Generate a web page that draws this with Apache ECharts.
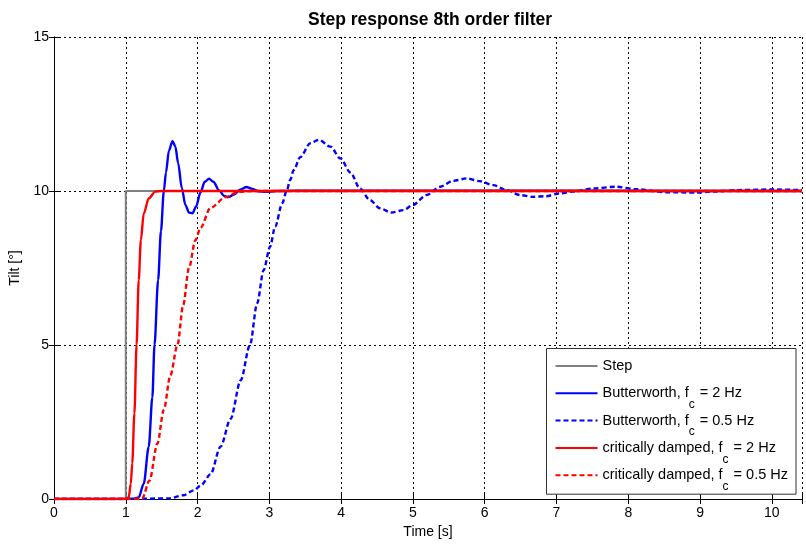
<!DOCTYPE html>
<html>
<head>
<meta charset="utf-8">
<script src="https://cdn.jsdelivr.net/npm/echarts@6/dist/echarts.min.js"></script>
<style>html,body{margin:0;padding:0;background:#fff}#c{width:806px;height:545px}</style>
</head>
<body>
<div id="c"></div>
<script>
const seriesNames = ['Step', 'Butterworth, fc = 2 Hz', 'Butterworth, fc = 0.5 Hz', 'critically damped, fc = 2 Hz', 'critically damped, fc = 0.5 Hz'];
const xTicks = [0,1,2,3,4,5,6,7,8,9,10];
const yTicks = [0,5,10,15];

const stepData = [[0,0],[1,0],[1,10],[10.42,10]];
const bw2Data = [[0,0],[1,0],[1.1,0.01],[1.18,0.05],[1.25,0.5],[1.32,1.7],[1.37,3.3],[1.40,5.0],[1.45,7.1],[1.49,8.7],[1.53,10.0],[1.56,10.6],[1.6,11.3],[1.65,11.62],[1.69,11.45],[1.73,10.9],[1.78,10.1],[1.83,9.55],[1.88,9.3],[1.93,9.28],[1.98,9.5],[2.04,9.95],[2.1,10.3],[2.16,10.4],[2.22,10.3],[2.3,10.02],[2.37,9.84],[2.43,9.8],[2.5,9.88],[2.6,10.05],[2.68,10.13],[2.76,10.07],[2.85,9.99],[2.95,9.97],[3.1,10.0],[3.4,10.01],[10.42,10]];
const bw05Data = [[0,0],[1,0],[1.6,0.02],[1.8,0.12],[1.95,0.28],[2.05,0.45],[2.18,0.8],[2.32,1.7],[2.46,2.6],[2.6,3.85],[2.73,5.0],[2.83,6.35],[2.92,7.43],[3.01,8.19],[3.08,8.84],[3.18,9.6],[3.24,10.0],[3.29,10.36],[3.34,10.68],[3.43,11.1],[3.57,11.55],[3.69,11.66],[3.85,11.44],[3.99,11.06],[4.13,10.6],[4.26,10.09],[4.40,9.71],[4.54,9.44],[4.70,9.30],[4.87,9.38],[5.00,9.55],[5.19,9.87],[5.38,10.14],[5.56,10.33],[5.75,10.41],[5.93,10.32],[6.12,10.19],[6.30,10.03],[6.49,9.87],[6.67,9.81],[6.85,9.83],[7.04,9.92],[7.23,9.98],[7.5,10.08],[7.83,10.14],[8.1,10.06],[8.52,9.96],[8.94,9.95],[9.17,9.98],[9.54,10.03],[10.0,10.05],[10.42,10.03]];
const cr2Data = [[0,0],[1,0],[1.04,0.05],[1.07,0.5],[1.09,1.16],[1.12,2.78],[1.15,5.0],[1.18,7.1],[1.21,8.4],[1.25,9.27],[1.32,9.76],[1.41,9.98],[1.5,10],[10.42,10]];
const cr05Data = [[0,0],[1,0],[1.23,0.02],[1.33,0.6],[1.44,1.8],[1.53,2.9],[1.62,4.0],[1.72,5.0],[1.80,6.3],[1.88,7.5],[1.97,8.4],[2.04,8.8],[2.18,9.45],[2.39,9.8],[2.57,9.97],[2.75,10],[10.42,10]];

const FONT = 'Liberation Sans';
const chart = echarts.init(document.getElementById('c'), null, {renderer: 'canvas'});

function axisCommon(showLabel) {
  return {
    axisLine: {show: true, lineStyle: {color: '#000', width: 1}},
    axisTick: {show: true, inside: true, length: 5, lineStyle: {color: '#000'}},
    axisLabel: {show: showLabel, color: '#000', fontSize: 14, fontFamily: FONT},
  };
}

const option = {
  animation: false,
  backgroundColor: '#fff',
  title: {
    text: 'Step response 8th order filter',
    left: 425, top: 6, textAlign: 'center',
    textStyle: {fontSize: 17.5, fontWeight: 'bold', color: '#000', fontFamily: FONT}
  },
  grid: {left: 54, top: 37, right: 4, bottom: 46, containLabel: false, outerBoundsMode: 'none'},
  legend: {
    orient: 'vertical', right: 10, top: 348.5,
    backgroundColor: '#fff', borderColor: '#333', borderWidth: 1,
    padding: [0, 8, 1.5, 8], itemGap: -7.7, itemWidth: 42, itemHeight: 14,
    selectedMode: false, data: seriesNames,
    itemStyle: {color: 'rgba(0,0,0,0)', borderWidth: 0, opacity: 0},
    lineStyle: {opacity: 1},
    formatter: function (name) {
      const i = name.indexOf(', fc');
      if (i < 0) return '{t|' + name + '}{s| }';
      return '{t|' + name.slice(0, i) + ', f}{s|c}{t|' + name.slice(i + 4) + '}';
    },
    textStyle: {
      color: '#000', fontFamily: FONT, fontSize: 14.5,
      rich: {
        t: {fontSize: 14.5, fontFamily: FONT, color: '#000', lineHeight: 14},
        s: {fontSize: 12, fontFamily: FONT, color: '#000', lineHeight: 14, padding: [23, 1, 0, 0]}
      }
    }
  },
  xAxis: [
    Object.assign({
      type: 'value', min: 0, max: 10.42, interval: 1, position: 'bottom',
      name: 'Time [s]', nameLocation: 'middle', nameGap: 25,
      nameTextStyle: {color: '#000', fontSize: 14, fontFamily: FONT},
      splitLine: {show: true, lineStyle: {color: '#000', type: [2, 3], width: 1}}
    }, axisCommon(true), {
      axisLabel: {show: true, color: '#000', fontSize: 14, fontFamily: FONT, margin: 7,
        formatter: function (v) { return xTicks.indexOf(v) >= 0 ? String(v) : ''; }}
    }),
    Object.assign({
      type: 'value', min: 0, max: 10.42, interval: 1, position: 'top',
      splitLine: {show: false}
    }, axisCommon(false))
  ],
  yAxis: [
    Object.assign({
      type: 'value', min: 0, max: 15, interval: 5, position: 'left',
      name: 'Tilt [°]', nameLocation: 'middle', nameGap: 30, nameRotate: 90,
      nameTextStyle: {color: '#000', fontSize: 14, fontFamily: FONT},
      splitLine: {show: true, lineStyle: {color: '#000', type: [2, 3], width: 1}}
    }, axisCommon(true), {
      axisLabel: {show: true, color: '#000', fontSize: 14, fontFamily: FONT, margin: 5,
        formatter: function (v) { return yTicks.indexOf(v) >= 0 ? String(v) : ''; }}
    }),
    Object.assign({
      type: 'value', min: 0, max: 15, interval: 5, position: 'right',
      splitLine: {show: false}
    }, axisCommon(false))
  ],
  series: [
    {name: seriesNames[0], type: 'line', data: stepData, symbol: 'none', showSymbol: false,
      lineStyle: {color: '#808080', width: 2}, itemStyle: {color: '#808080'}, z: 2},
    {name: seriesNames[1], type: 'line', data: bw2Data, symbol: 'none', showSymbol: false, smooth: 0.3, smoothMonotone: 'x',
      lineStyle: {color: '#0000ff', width: 2.4}, itemStyle: {color: '#0000ff'}, z: 3},
    {name: seriesNames[2], type: 'line', data: bw05Data, symbol: 'none', showSymbol: false, smooth: 0.3, smoothMonotone: 'x',
      lineStyle: {color: '#0000ff', width: 2.4, type: [5, 3]}, itemStyle: {color: '#0000ff'}, z: 4},
    {name: seriesNames[3], type: 'line', data: cr2Data, symbol: 'none', showSymbol: false, smooth: 0.3, smoothMonotone: 'x',
      lineStyle: {color: '#ff0000', width: 2.4}, itemStyle: {color: '#ff0000'}, z: 5},
    {name: seriesNames[4], type: 'line', data: cr05Data, symbol: 'none', showSymbol: false, smooth: 0.3, smoothMonotone: 'x',
      lineStyle: {color: '#ff0000', width: 2.4, type: [5, 3]}, itemStyle: {color: '#ff0000'}, z: 6}
  ]
};
chart.setOption(option);
</script>
</body>
</html>
